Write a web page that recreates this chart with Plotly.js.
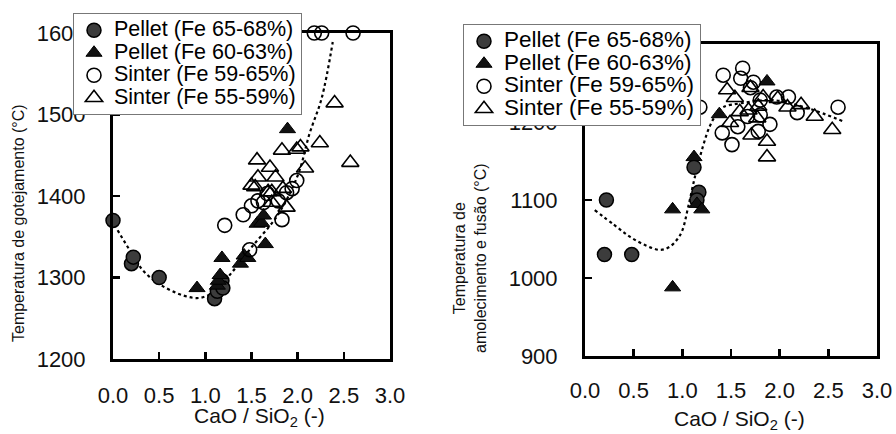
<!DOCTYPE html>
<html><head><meta charset="utf-8">
<script src="https://cdn.plot.ly/plotly-3.0.1.min.js"></script>
<style>html,body{margin:0;padding:0;background:#fff}</style>
</head><body><div id="chart" style="width:896px;height:434px"></div>
<script>
// ---------- Data: left panel (dripping temperature) ----------
const pellet65L_x = [0.0, 0.2, 0.22, 0.5, 1.1, 1.13, 1.18, 1.19];
const pellet65L_y = [1370, 1317, 1325, 1300, 1274, 1283, 1296, 1287];
const pellet60L_x = [0.91, 1.13, 1.14, 1.16, 1.18, 1.38, 1.42, 1.46, 1.56, 1.61, 1.63, 1.65, 1.89];
const pellet60L_y = [1287, 1290, 1296, 1303, 1324, 1317, 1327, 1324, 1366, 1367, 1376, 1341, 1482];
const sinter59L_x = [1.21, 1.41, 1.48, 1.5, 1.57, 1.63, 1.67, 1.79, 1.83, 1.88, 1.94, 1.99, 2.18, 2.26, 2.6];
const sinter59L_y = [1364, 1377, 1334, 1388, 1394, 1392, 1403, 1394, 1371, 1404, 1409, 1419, 1600, 1600, 1600];
const sinter55L_x = [1.5, 1.54, 1.56, 1.57, 1.68, 1.7, 1.72, 1.72, 1.76, 1.83, 1.84, 1.88, 1.99, 2.03, 2.08, 2.24, 2.4, 2.57];
const sinter55L_y = [1413, 1411, 1444, 1423, 1405, 1435, 1392, 1405, 1423, 1456, 1409, 1386, 1457, 1460, 1434, 1465, 1514, 1441];
const fitL_x = [0.05, 0.2, 0.33, 0.5, 0.76, 0.94, 1.1, 1.3, 1.5, 1.78, 2.0, 2.13, 2.26, 2.38];
const fitL_y = [1358, 1330, 1308, 1292, 1278, 1275, 1283, 1308, 1337, 1376, 1425, 1477, 1520, 1589];

// ---------- Data: right panel (softening & melting temperature) ----------
const pellet65R_x = [0.22, 0.2, 0.48, 1.12, 1.17, 1.15];
const pellet65R_y = [1100, 1030, 1030, 1142, 1110, 1100];
const pellet60R_x = [0.9, 0.9, 1.15, 1.2, 1.12, 1.38, 1.87];
const pellet60R_y = [1088, 988, 1095, 1088, 1155, 1210, 1252];
const sinter59R_x = [1.18, 1.42, 1.41, 1.51, 1.57, 1.6, 1.62, 1.67, 1.7, 1.73, 1.78, 1.8, 1.8, 1.9, 1.97, 2.09, 2.18, 2.6];
const sinter59R_y = [1219, 1260, 1186, 1171, 1194, 1256, 1269, 1207, 1244, 1251, 1188, 1228, 1209, 1197, 1232, 1232, 1212, 1219];
const sinter55R_x = [1.46, 1.49, 1.54, 1.59, 1.68, 1.7, 1.71, 1.77, 1.78, 1.83, 1.87, 1.87, 1.98, 2.08, 2.22, 2.36, 2.54];
const sinter55R_y = [1241, 1199, 1231, 1213, 1215, 1244, 1183, 1205, 1220, 1232, 1175, 1155, 1230, 1219, 1222, 1207, 1190];
const fitR_x = [0.1, 0.3, 0.46, 0.62, 0.77, 0.87, 0.95, 1.0, 1.06, 1.13, 1.21, 1.28, 1.35, 1.42, 1.6, 1.93, 2.28, 2.67];
const fitR_y = [1087, 1068, 1053, 1042, 1036, 1040, 1050, 1061, 1091, 1130, 1168, 1194, 1210, 1219, 1224, 1228, 1218, 1200];

const seriesNames = ['Pellet (Fe 65-68%)', 'Pellet (Fe 60-63%)', 'Sinter (Fe 59-65%)', 'Sinter (Fe 55-59%)'];
const xTicks = [0, 0.5, 1, 1.5, 2, 2.5, 3];
const yTicksL = [1200, 1300, 1400, 1500, 1600];
const yTicksR = [900, 1000, 1100, 1200, 1300];

const FONT = 'Liberation Sans, Arial, Helvetica, sans-serif';
const W = 896, H = 434;
const nm = (s, px) => '<span style="font-size:' + px + 'px">' + s + '</span>';

const styles = [
  {symbol: 'circle', size: 14, color: '#3c3c3c', line: {color: '#000', width: 1.5}},
  {symbol: 'triangle-up', size: 14, color: '#111', line: {color: '#000', width: 1}},
  {symbol: 'circle-open', size: 14, color: '#000', line: {color: '#000', width: 1.6}},
  {symbol: 'triangle-up-open', size: 15, color: '#000', line: {color: '#000', width: 1.6}}
];

function pts(x, y, i, xa, ya, leg, px) {
  return {x: x, y: y, xaxis: xa, yaxis: ya, type: 'scatter', mode: 'markers',
    name: nm(seriesNames[i], px), legend: leg, cliponaxis: false,
    marker: styles[i]};
}
function fit(x, y, xa, ya) {
  return {x: x, y: y, xaxis: xa, yaxis: ya, type: 'scatter', mode: 'lines',
    showlegend: false, line: {color: '#000', width: 2.2, dash: 'dot', shape: 'spline'}};
}

const data = [
  fit(fitL_x, fitL_y, 'x', 'y'),
  pts(pellet65L_x, pellet65L_y, 0, 'x', 'y', 'legend', 21.5),
  pts(pellet60L_x, pellet60L_y, 1, 'x', 'y', 'legend', 21.5),
  pts(sinter59L_x, sinter59L_y, 2, 'x', 'y', 'legend', 21.5),
  pts(sinter55L_x, sinter55L_y, 3, 'x', 'y', 'legend', 21.5),
  fit(fitR_x, fitR_y, 'x2', 'y2'),
  pts(pellet65R_x, pellet65R_y, 0, 'x2', 'y2', 'legend2', 22.5),
  pts(pellet60R_x, pellet60R_y, 1, 'x2', 'y2', 'legend2', 22.5),
  pts(sinter59R_x, sinter59R_y, 2, 'x2', 'y2', 'legend2', 22.5),
  pts(sinter55R_x, sinter55R_y, 3, 'x2', 'y2', 'legend2', 22.5)
];

function xaxis(domain, anchor, standoff) {
  return {domain: domain, anchor: anchor, range: [0, 3], tickvals: xTicks,
    ticktext: xTicks.map(v => v.toFixed(1)), ticks: 'inside', ticklen: 7, tickwidth: 2.5,
    tickcolor: '#000', showline: true, linecolor: '#000', linewidth: 3, mirror: true,
    showgrid: false, zeroline: false, ticklabelstandoff: standoff,
    tickfont: {family: FONT, size: 22, color: '#111'}};
}
function yaxis(domain, anchor, range, vals) {
  return {domain: domain, anchor: anchor, range: range, tickvals: vals,
    ticks: 'inside', ticklen: 7, tickwidth: 2.5, tickcolor: '#000',
    showline: true, linecolor: '#000', linewidth: 3, mirror: true,
    showgrid: false, zeroline: false, ticklabelstandoff: 20,
    tickfont: {family: FONT, size: 22, color: '#111'}};
}

const legendBase = {bgcolor: '#fff', bordercolor: '#777', borderwidth: 1,
  xanchor: 'left', yanchor: 'top', tracegroupgap: 0,
  font: {family: FONT, size: 15, color: '#000'}};

const layout = {
  width: W, height: H, margin: {l: 0, r: 0, t: 0, b: 0},
  paper_bgcolor: '#fff', plot_bgcolor: '#fff', font: {family: FONT, color: '#000'},
  xaxis: xaxis([113 / W, 390 / W], 'y', 15),
  yaxis: yaxis([1 - 359 / H, 1 - 33 / H], 'x', [1200, 1600], yTicksL),
  xaxis2: xaxis([585 / W, 877 / W], 'y2', 13),
  yaxis2: yaxis([1 - 356 / H, 1 - 44 / H], 'x2', [900, 1300], yTicksR),
  legend: Object.assign({x: 73 / W, y: 1 - 13 / H}, legendBase),
  legend2: Object.assign({x: 463 / W, y: 1 - 24 / H}, legendBase),
  annotations: [
    {text: 'Temperatura de gotejamento (°C)', xref: 'paper', yref: 'paper',
      x: 18 / W, y: 1 - 223 / H, xanchor: 'center', yanchor: 'middle', textangle: -90, showarrow: false,
      font: {family: FONT, size: 16, color: '#111'}},
    {text: 'Temperatura de<br>amolecimento e fusão (°C)', xref: 'paper', yref: 'paper',
      x: 470 / W, y: 1 - 258 / H, xanchor: 'center', yanchor: 'middle', textangle: -90, showarrow: false,
      font: {family: FONT, size: 16, color: '#111'}},
    {text: 'CaO / SiO<sub>2</sub> (-)', xref: 'paper', yref: 'paper',
      x: 259 / W, y: 1 - 417 / H, xanchor: 'center', yanchor: 'middle', showarrow: false,
      font: {family: FONT, size: 21, color: '#111'}},
    {text: 'CaO / SiO<sub>2</sub> (-)', xref: 'paper', yref: 'paper',
      x: 739 / W, y: 1 - 420 / H, xanchor: 'center', yanchor: 'middle', showarrow: false,
      font: {family: FONT, size: 21, color: '#111'}}
  ],
  showlegend: true
};

Plotly.newPlot('chart', data, layout, {staticPlot: true, displayModeBar: false});
</script></body></html>
